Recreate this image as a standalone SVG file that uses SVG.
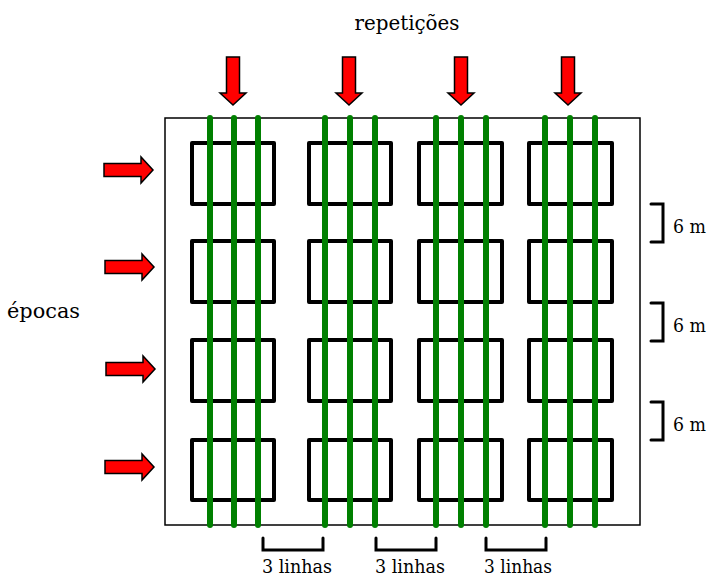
<svg xmlns="http://www.w3.org/2000/svg" width="709" height="577" viewBox="0 0 709 577">
  <defs>
    <style>
      text { font-family: 'DejaVu Serif', 'Liberation Serif', serif; fill: #000; }
      .plot { fill: none; stroke: #000; stroke-width: 4; stroke-linejoin: round; }
      .row { stroke: #008000; stroke-width: 6; stroke-linecap: round; }
      .arrow { fill: #ff0000; stroke: #000; stroke-width: 1.5; stroke-linejoin: miter; }
      .brk { fill: none; stroke: #000; stroke-width: 3; stroke-linecap: round; }
    </style>
    <polygon id="arrowDown" points="-6.5,0 6.5,0 6.5,36 13,36 0,48 -13,36 -6.5,36" class="arrow"/>
    <polygon id="arrowRight" points="0,-6.5 37,-6.5 37,-13 49,0 37,13 37,6.5 0,6.5" class="arrow"/>
  </defs>
  <rect width="709" height="577" fill="#fff"/>

  <text x="407" y="30" font-size="21" text-anchor="middle" textLength="105" lengthAdjust="spacingAndGlyphs">repetições</text>
  <text x="7" y="318" font-size="21" textLength="73" lengthAdjust="spacingAndGlyphs">épocas</text>

  <!-- field boundary -->
  <g id="field">
    <rect x="165" y="118" width="475" height="407" fill="none" stroke="#000" stroke-width="1.5"/>
  </g>

  <!-- plots -->
  <g id="plots">
    <g id="plot-c1">
      <rect class="plot" x="192" y="143" width="82" height="61"/>
      <rect class="plot" x="192" y="241" width="82" height="61"/>
      <rect class="plot" x="192" y="340" width="82" height="61"/>
      <rect class="plot" x="192" y="440" width="82" height="60"/>
    </g>
    <g id="plot-c2">
      <rect class="plot" x="309" y="143" width="82" height="61"/>
      <rect class="plot" x="309" y="241" width="82" height="61"/>
      <rect class="plot" x="309" y="340" width="82" height="61"/>
      <rect class="plot" x="309" y="440" width="82" height="60"/>
    </g>
    <g id="plot-c3">
      <rect class="plot" x="419" y="143" width="83" height="61"/>
      <rect class="plot" x="419" y="241" width="83" height="61"/>
      <rect class="plot" x="419" y="340" width="83" height="61"/>
      <rect class="plot" x="419" y="440" width="83" height="60"/>
    </g>
    <g id="plot-c4">
      <rect class="plot" x="529" y="143" width="83" height="61"/>
      <rect class="plot" x="529" y="241" width="83" height="61"/>
      <rect class="plot" x="529" y="340" width="83" height="61"/>
      <rect class="plot" x="529" y="440" width="83" height="60"/>
    </g>
  </g>

  <!-- crop rows -->
  <g id="rows">
    <line class="row" x1="210" y1="118" x2="210" y2="525"/>
    <line class="row" x1="234" y1="118" x2="234" y2="525"/>
    <line class="row" x1="258" y1="118" x2="258" y2="525"/>
    <line class="row" x1="325" y1="118" x2="325" y2="525"/>
    <line class="row" x1="350" y1="118" x2="350" y2="525"/>
    <line class="row" x1="375" y1="118" x2="375" y2="525"/>
    <line class="row" x1="436" y1="118" x2="436" y2="525"/>
    <line class="row" x1="461" y1="118" x2="461" y2="525"/>
    <line class="row" x1="486" y1="118" x2="486" y2="525"/>
    <line class="row" x1="545" y1="118" x2="545" y2="525"/>
    <line class="row" x1="570" y1="118" x2="570" y2="525"/>
    <line class="row" x1="595" y1="118" x2="595" y2="525"/>
  </g>

  <!-- repetition and season arrows -->
  <g id="connectors">
    <use href="#arrowDown" x="233" y="57"/>
    <use href="#arrowDown" x="349" y="57"/>
    <use href="#arrowDown" x="461" y="57"/>
    <use href="#arrowDown" x="568" y="57"/>
    <use href="#arrowRight" x="104" y="170"/>
    <use href="#arrowRight" x="105" y="267"/>
    <use href="#arrowRight" x="106" y="369"/>
    <use href="#arrowRight" x="105" y="467"/>
  </g>

  <!-- spacing dimensions -->
  <g id="dim-right">
    <polyline class="brk" points="651,204 663,204 663,242 651,242"/>
    <polyline class="brk" points="651,303 663,303 663,341 651,341"/>
    <polyline class="brk" points="651,402 663,402 663,440 651,440"/>
    <text x="673" y="233" font-size="18" textLength="33" lengthAdjust="spacingAndGlyphs">6 m</text>
    <text x="673" y="332" font-size="18" textLength="33" lengthAdjust="spacingAndGlyphs">6 m</text>
    <text x="673" y="431" font-size="18" textLength="33" lengthAdjust="spacingAndGlyphs">6 m</text>
  </g>
  <g id="dim-bottom">
    <polyline class="brk" points="263,538 263,550 323,550 323,538"/>
    <polyline class="brk" points="376,538 376,550 436,550 436,538"/>
    <polyline class="brk" points="486,538 486,550 546,550 546,538"/>
    <text x="297" y="573" font-size="18" text-anchor="middle" textLength="70" lengthAdjust="spacingAndGlyphs">3 linhas</text>
    <text x="410" y="573" font-size="18" text-anchor="middle" textLength="70" lengthAdjust="spacingAndGlyphs">3 linhas</text>
    <text x="518" y="573" font-size="18" text-anchor="middle" textLength="68" lengthAdjust="spacingAndGlyphs">3 linhas</text>
  </g>
</svg>
